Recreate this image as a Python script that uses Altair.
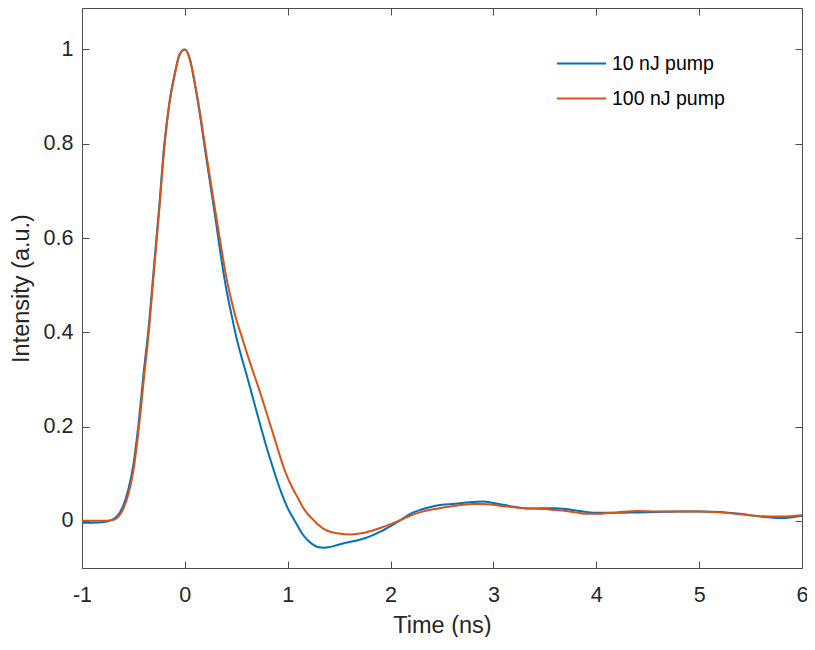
import altair as alt
import pandas as pd

time_ns = [-1.0, -0.9, -0.8, -0.7, -0.65, -0.6, -0.55, -0.5, -0.45, -0.4, -0.35, -0.3,
           -0.25, -0.2, -0.15, -0.1, -0.05, 0.0, 0.05, 0.1, 0.15, 0.2, 0.25, 0.3, 0.35,
           0.4, 0.45, 0.5, 0.55, 0.6, 0.65, 0.7, 0.75, 0.8, 0.85, 0.9, 0.95, 1.0, 1.05,
           1.1, 1.15, 1.2, 1.25, 1.3, 1.35, 1.4, 1.5, 1.6, 1.7, 1.8, 1.9, 2.0, 2.1, 2.2,
           2.3, 2.4, 2.5, 2.6, 2.7, 2.8, 2.9, 3.0, 3.1, 3.2, 3.3, 3.4, 3.5, 3.6, 3.7, 3.8,
           3.9, 4.0, 4.2, 4.4, 4.6, 4.8, 5.0, 5.2, 5.4, 5.6, 5.8, 6.0]

pump_10nJ = [-0.004, -0.004, -0.003, 0.003, 0.012, 0.032, 0.066, 0.12, 0.207, 0.315, 0.415, 0.54,
             0.665, 0.798, 0.888, 0.947, 0.99, 1.0, 0.978, 0.923, 0.857, 0.782, 0.71, 0.638, 0.562,
             0.495, 0.441, 0.39, 0.348, 0.31, 0.27, 0.23, 0.19, 0.152, 0.117, 0.083, 0.053, 0.027, 0.007,
             -0.012, -0.03, -0.042, -0.051, -0.056, -0.057, -0.056, -0.05, -0.045, -0.04, -0.033, -0.023, -0.011, 0.002, 0.016,
             0.024, 0.03, 0.034, 0.036, 0.038, 0.04, 0.041, 0.038, 0.034, 0.03, 0.027, 0.026, 0.027, 0.027, 0.025, 0.022,
             0.019, 0.017, 0.017, 0.018, 0.019, 0.02, 0.02, 0.019, 0.015, 0.009, 0.006, 0.011]

pump_100nJ = [0.0, 0.0, 0.0, 0.002, 0.008, 0.025, 0.056, 0.107, 0.192, 0.298, 0.402, 0.53,
              0.656, 0.79, 0.885, 0.945, 0.99, 1.0, 0.978, 0.925, 0.862, 0.79, 0.72, 0.652, 0.585,
              0.52, 0.47, 0.427, 0.393, 0.358, 0.325, 0.293, 0.26, 0.225, 0.19, 0.155, 0.12, 0.091, 0.068,
              0.048, 0.028, 0.013, 0.002, -0.009, -0.017, -0.022, -0.027, -0.029, -0.027, -0.022, -0.015, -0.007, 0.002, 0.012,
              0.019, 0.024, 0.028, 0.031, 0.034, 0.036, 0.036, 0.034, 0.031, 0.029, 0.027, 0.026, 0.025, 0.023, 0.021, 0.018,
              0.015, 0.015, 0.018, 0.021, 0.02, 0.02, 0.02, 0.018, 0.014, 0.01, 0.009, 0.012]

series_names = ["10 nJ pump", "100 nJ pump"]
series_colors = ["#0072BD", "#D95319"]
x_ticks = [-1, 0, 1, 2, 3, 4, 5, 6]
y_ticks = [0, 0.2, 0.4, 0.6, 0.8, 1]

rows = []
for name, vals in zip(series_names, [pump_10nJ, pump_100nJ]):
    for t, v in zip(time_ns, vals):
        rows.append({"t": t, "v": v, "series": name})
df = pd.DataFrame(rows)

FONT = "Liberation Sans"
TXT = "#262626"
AX = "#4d4d4d"

xscale = alt.Scale(domain=[-1, 6], nice=False, zero=False)
yscale = alt.Scale(domain=[-0.1, 1.088], nice=False, zero=False)

common_axis = dict(grid=False, domain=False, tickSize=7, offset=-7, tickColor=AX,
                   tickWidth=1, labelFont=FONT, labelColor=TXT, titleFont=FONT,
                   titleColor=TXT, titleFontWeight="normal", labelFlush=False)

main = alt.Chart(df).mark_line(strokeWidth=2, interpolate="monotone").encode(
    x=alt.X("t:Q", scale=xscale,
            axis=alt.Axis(values=x_ticks, orient="bottom", title="Time (ns)",
                          labelFontSize=21.5, titleFontSize=23.5, labelPadding=16,
                          titlePadding=8, labelExpr="'' + datum.value", **common_axis)),
    y=alt.Y("v:Q", scale=yscale,
            axis=alt.Axis(values=y_ticks, orient="left", title="Intensity (a.u.)",
                          labelFontSize=21.5, titleFontSize=23.5, labelPadding=9,
                          titlePadding=10, labelExpr="'' + datum.value", **common_axis)),
    color=alt.Color("series:N",
                    scale=alt.Scale(domain=series_names, range=series_colors),
                    legend=alt.Legend(title=None, orient="none", legendX=474, legendY=30,
                                      symbolType="stroke", symbolSize=2401,
                                      symbolStrokeWidth=2, labelFont=FONT,
                                      labelFontSize=19.5, labelColor="#000000",
                                      labelOffset=5, padding=0, rowPadding=0)),
)

frame = alt.Chart(df).mark_line(opacity=0).encode(
    x=alt.X("t:Q", scale=xscale,
            axis=alt.Axis(values=x_ticks, orient="top", title=None, labels=False,
                          **common_axis)),
    y=alt.Y("v:Q", scale=yscale,
            axis=alt.Axis(values=y_ticks, orient="right", title=None, labels=False,
                          **common_axis)),
)

chart = alt.layer(main, frame).resolve_axis(x="independent", y="independent").properties(
    width=720, height=560,
    autosize=alt.AutoSizeParams(type="none"),
    padding={"left": 74, "top": 0, "right": 5, "bottom": 69},
    background="white",
).configure_view(stroke=AX, strokeWidth=1)

chart.save("out.html", embed_options={"renderer": "svg", "actions": False})
